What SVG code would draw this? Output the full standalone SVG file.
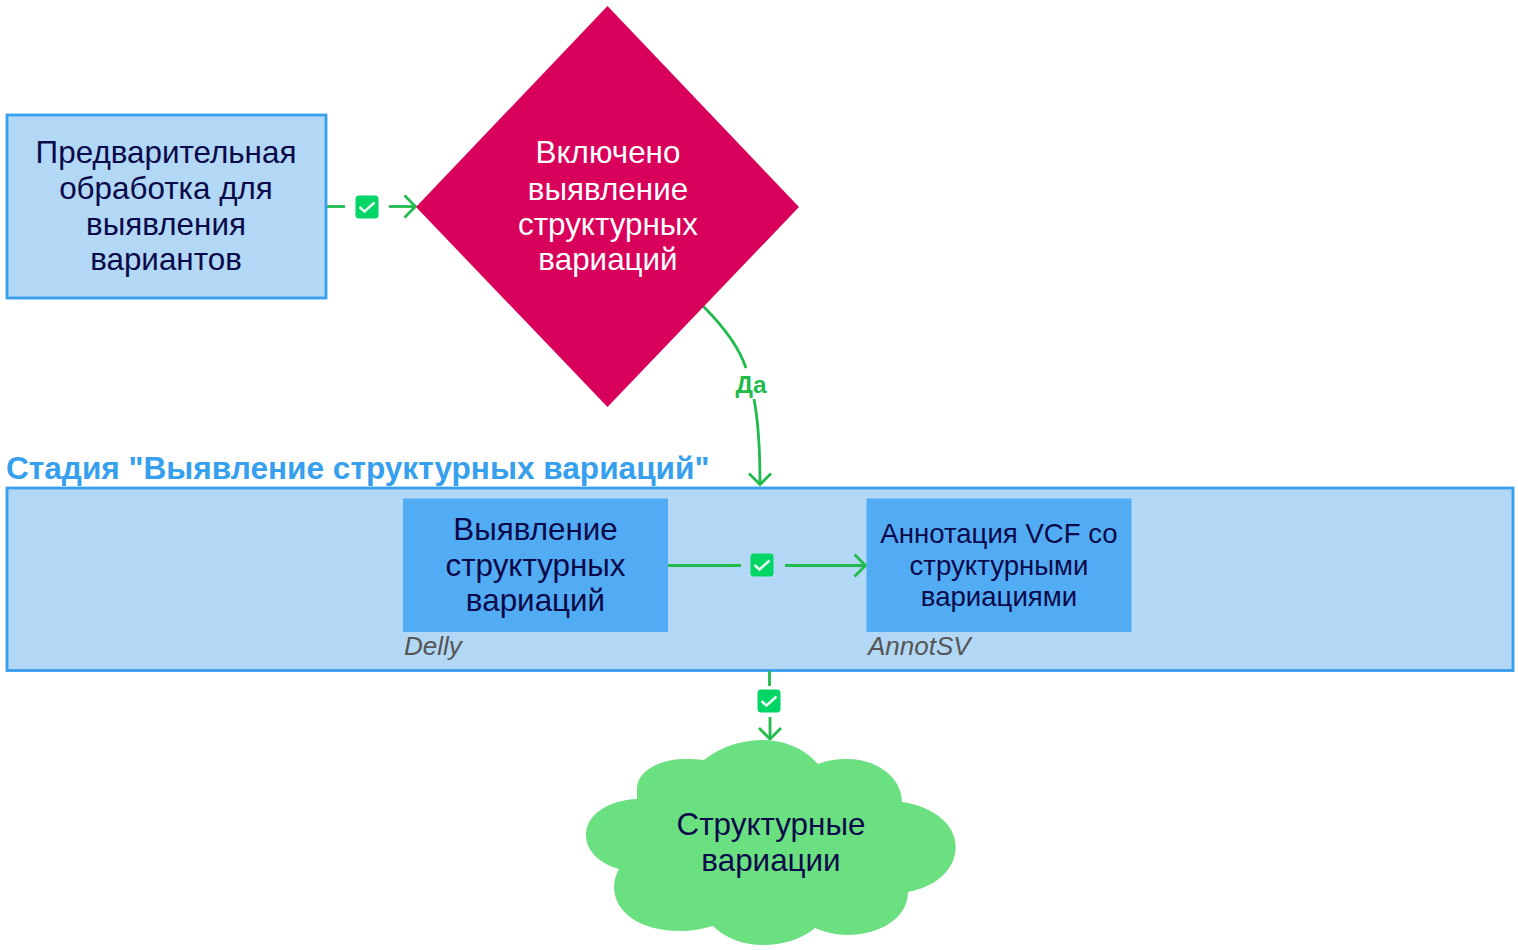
<svg xmlns="http://www.w3.org/2000/svg" width="1518" height="950" viewBox="0 0 1518 950">
<style>
text{font-family:"Liberation Sans",Arial,sans-serif;text-anchor:middle}
.dark{fill:#0a0a4a;font-size:31.400px}
.mid{fill:#0a0a4a;font-size:27.600px}
.white{fill:#fff;font-size:31.400px}
.tool{fill:#555;font-size:26px;font-style:italic;text-anchor:start}
.line{fill:none;stroke:#1fbb4b;stroke-width:2.800}
.badge{fill:#00d566}
.tick{fill:none;stroke:#e8fbef;stroke-width:2.500}
</style>
<defs>
<marker id="arr" markerUnits="userSpaceOnUse" markerWidth="30" markerHeight="30" refX="20" refY="12" orient="auto" overflow="visible"><path d="M8.500 1L19.500 12L8.500 23" fill="none" stroke="#1fbb4b" stroke-width="2.800"/></marker>
<g id="chk"><rect x="-11.500" y="-11.500" width="23" height="23" rx="3.500" class="badge"/><path d="M-7.500 0L-2.500 4.500L7.500 -4.500" class="tick"/></g>
</defs>
<g id="stage">
<rect x="7" y="488" width="1506" height="182.500" fill="#b2d8f5" stroke="#369fee" stroke-width="2.800"/>
<text x="6" y="478.500" style="text-anchor:start;font-size:31.600px;font-weight:bold;fill:#369fee">Стадия "Выявление структурных вариаций"</text>
</g>
<g id="connectors">
<path class="line" d="M327 206.500H345"/>
<path class="line" d="M389 206.500H416" marker-end="url(#arr)"/>
<use href="#chk" x="367" y="207"/>
<path class="line" d="M703 306C724 327 739 347 746 368"/>
<path class="line" d="M754 399C759 425 760 455 760 485" marker-end="url(#arr)"/>
<text x="751" y="393" style="font-size:24.500px;font-weight:bold;fill:#1fbb4b">Да</text>
<path class="line" d="M668 565.500H741"/>
<path class="line" d="M785 565.500H866" marker-end="url(#arr)"/>
<use href="#chk" x="762" y="565"/>
<path class="line" d="M769.500 671V686"/>
<path class="line" d="M770 717V739.500" marker-end="url(#arr)"/>
<use href="#chk" x="769" y="701"/>
</g>
<g id="preprocess">
<rect x="7" y="115" width="319" height="183" fill="#b2d8f5" stroke="#369fee" stroke-width="2.800"/>
<text class="dark" x="166" y="162.500">Предварительная</text>
<text class="dark" x="166" y="198.500">обработка для</text>
<text class="dark" x="166" y="235">выявления</text>
<text class="dark" x="166" y="269.500">вариантов</text>
</g>
<g id="decision">
<path d="M607.500 6L799 207L607.500 407L416 207Z" fill="#d9005b"/>
<text class="white" x="608" y="162.500">Включено</text>
<text class="white" x="608" y="199.500">выявление</text>
<text class="white" x="608" y="234.500">структурных</text>
<text class="white" x="608" y="269.500">вариаций</text>
</g>
<g id="detect">
<rect x="403" y="498.500" width="265" height="133.500" fill="#52acf3"/>
<text class="dark" x="535.500" y="539.500">Выявление</text>
<text class="dark" x="535.500" y="575.500">структурных</text>
<text class="dark" x="535.500" y="610.500">вариаций</text>
<text class="tool" x="404" y="655">Delly</text>
</g>
<g id="annotate">
<rect x="866.500" y="498.500" width="265" height="133.500" fill="#52acf3"/>
<text class="mid" x="999" y="542.500">Аннотация VCF со</text>
<text class="mid" x="999" y="574.500">структурными</text>
<text class="mid" x="999" y="605.500">вариациями</text>
<text class="tool" x="868" y="655">AnnotSV</text>
</g>
<g id="result">
<path d="M704 760C722 746 742 740 763 740C785 740 805 749 818 764C828 760 838 759 847 759C880 759 902 780 902 802C935 807 955.700 825 955.700 847C955.700 870 935 887 908 892C908 918 880 935 847 935C835 935 825 932 815 928C802 939 783 945 763 945C743 945 725 938 713 926C702 929 692 931 680 931C640 931 614 912 614 887C614 880 616 875 619 869C598 863 586 850 586 835C586 815 608 800 637 799C637 795 637 791 637 789C637 771 660 759 685 759C692 759 698 759 704 760Z" fill="#6be081"/>
<text class="dark" x="771" y="834.500">Структурные</text>
<text class="dark" x="771" y="870.500">вариации</text>
</g>
</svg>
